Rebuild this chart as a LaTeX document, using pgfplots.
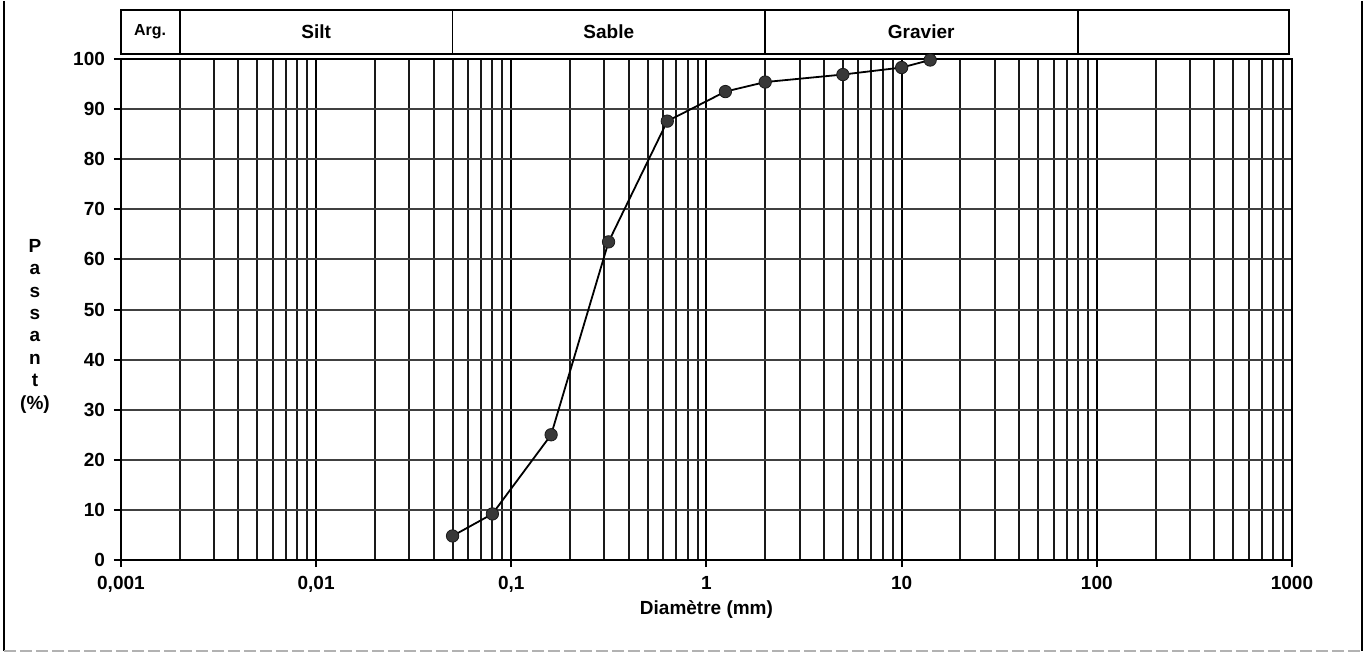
\documentclass[border=0pt]{standalone}
\usepackage{fontspec}
\setmainfont{Liberation Sans}
\usepackage{pgfplots}
\pgfplotsset{compat=1.18}
\begin{document}
\begin{tikzpicture}
\begin{axis}[
	xmode=log,
	scale only axis,
	width=585.5pt,
	height=250.5pt,
	xmin=0.001, xmax=1000,
	ymin=0, ymax=100,
	clip=false,
	axis line style={black, line width=1.2pt},
	xtick={0.001,0.01,0.1,1,10,100,1000},
	xticklabels={{0,001},{0,01},{0,1},1,10,100,1000},
	ytick={0,10,...,100},
	/pgf/number format/assume math mode=true,
	ticklabel style={font=\fontsize{9.5}{11}\selectfont\bfseries},
	tick pos=left,
	tick align=outside,
	major tick length=3.5pt,
	minor tick length=0pt,
	tick style={black, line width=1pt},
	xmajorgrids, xminorgrids, ymajorgrids,
	major grid style={black, line width=1pt},
	minor grid style={black!90, line width=1pt},
	y grid style={black!75, line width=1pt},
	xticklabel style={yshift=-1pt},
	yticklabel style={xshift=-1pt},
]
% passing percentage vs sieve size
\addplot[black, line width=0.9pt,
	mark=*, mark size=3.1pt, mark options={fill=black!78, draw=black!90, line width=0.4pt}]
	coordinates {
	(0.05, 4.8)
	(0.08, 9.2)
	(0.16, 25.0)
	(0.315, 63.5)
	(0.63, 87.6)
	(1.25, 93.5)
	(2, 95.4)
	(5, 96.9)
	(10, 98.3)
	(14, 99.8)
	};

% soil classes band
\draw[black, line width=0.8pt] (axis cs:0.001,101) rectangle (axis cs:964,109.8);
\pgfplotsinvokeforeach{0.002,0.05,2,80}{
	\draw[black, line width=0.8pt] (axis cs:#1,101) -- (axis cs:#1,109.8);
}
\node[font=\fontsize{8}{10}\selectfont\bfseries] at (axis cs:0.00141,105.4) {Arg.};
\node[font=\fontsize{9.5}{11}\selectfont\bfseries] at (axis cs:0.01,105.4) {Silt};
\node[font=\fontsize{9.5}{11}\selectfont\bfseries] at (axis cs:0.316,105.4) {Sable};
\node[font=\fontsize{9.5}{11}\selectfont\bfseries] at (axis cs:12.6,105.4) {Gravier};

% axis titles
\node[font=\fontsize{9.5}{11}\selectfont\bfseries] at (rel axis cs:0.5,-0.098) {Diamètre (mm)};
\node[font=\fontsize{9.5}{11.2}\selectfont\bfseries, align=center] at (rel axis cs:-0.0734,0.467)
	{P\\a\\s\\s\\a\\n\\t\\(\%)};

% outer frame
\draw[black, line width=1pt] (rel axis cs:-0.0995,1.1158) -- (rel axis cs:-0.0995,-0.1816);
\draw[black, line width=1pt] (rel axis cs:1.0595,1.1158) -- (rel axis cs:1.0595,-0.1816);
\draw[black!30, line width=0.6pt, dash pattern=on 6pt off 2pt] (rel axis cs:-0.0995,-0.1816) -- (rel axis cs:1.0595,-0.1816);
\path (rel axis cs:-0.1033,-0.1876) rectangle (rel axis cs:1.0615,1.1158);
\end{axis}
\end{tikzpicture}
\end{document}
